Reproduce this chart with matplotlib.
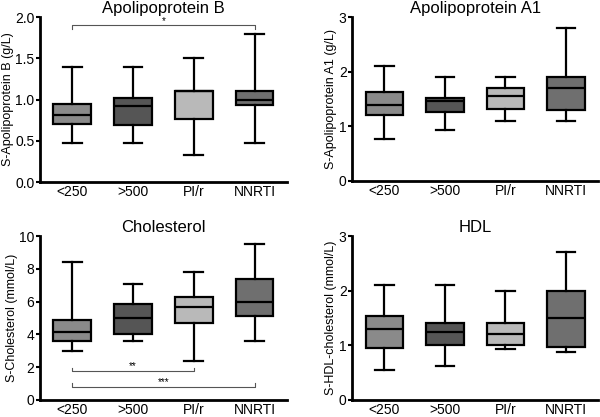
import matplotlib
matplotlib.use("Agg")
import matplotlib.pyplot as plt

plt.rcParams['font.family'] = ['Liberation Sans', 'DejaVu Sans']

categories = ["<250", ">500", "PI/r", "NNRTI"]
colors = ["#8a8a8a", "#555555", "#b9b9b9", "#6f6f6f"]

# (whislo, q1, med, q3, whishi) per category
apob = [(0.47, 0.70, 0.81, 0.95, 1.40),
        (0.47, 0.69, 0.92, 1.02, 1.40),
        (0.33, 0.77, 1.10, 1.10, 1.50),
        (0.47, 0.93, 1.00, 1.10, 1.80)]
apoa1 = [(0.76, 1.20, 1.40, 1.63, 2.10),
         (0.94, 1.27, 1.46, 1.52, 1.90),
         (1.10, 1.32, 1.55, 1.70, 1.90),
         (1.10, 1.30, 1.70, 1.90, 2.80)]
chol = [(3.0, 3.6, 4.15, 4.85, 8.4),
        (3.6, 4.05, 5.0, 5.85, 7.1),
        (2.4, 4.7, 5.7, 6.3, 7.8),
        (3.6, 5.1, 6.0, 7.4, 9.5)]
hdl = [(0.55, 0.95, 1.30, 1.53, 2.10),
       (0.62, 1.00, 1.25, 1.40, 2.10),
       (0.93, 1.00, 1.20, 1.40, 2.00),
       (0.88, 0.97, 1.50, 2.00, 2.70)]

panels = [
    dict(title="Apolipoprotein B", ylabel="S-Apolipoprotein B (g/L)", data=apob,
         ylim=(0, 2.0), yticks=[0.0, 0.5, 1.0, 1.5, 2.0], fmt="{:.1f}",
         rect=[0.0667, 0.5635, 0.4113, 0.3955],
         sig=[(1, 4, 1.905, -0.05, "*", 0.045)]),
    dict(title="Apolipoprotein A1", ylabel="S-Apolipoprotein A1 (g/L)", data=apoa1,
         ylim=(0, 3), yticks=[0, 1, 2, 3], fmt="{:.0f}",
         rect=[0.587, 0.566, 0.41, 0.393], sig=[]),
    dict(title="Cholesterol", ylabel="S-Cholesterol (mmol/L)", data=chol,
         ylim=(0, 10), yticks=[0, 2, 4, 6, 8, 10], fmt="{:.0f}",
         rect=[0.0667, 0.0408, 0.4113, 0.3932],
         sig=[(1, 3, 1.76, 0.18, "**", 0.3), (1, 4, 0.82, 0.2, "***", 0.3)]),
    dict(title="HDL", ylabel="S-HDL-cholesterol (mmol/L)", data=hdl,
         ylim=(0, 3), yticks=[0, 1, 2, 3], fmt="{:.0f}",
         rect=[0.587, 0.0408, 0.41, 0.3932], sig=[]),
]

fig = plt.figure(figsize=(6.0, 4.17), dpi=100)

for p in panels:
    ax = fig.add_axes(p["rect"])
    stats = []
    for cat, (lo, q1, med, q3, hi) in zip(categories, p["data"]):
        stats.append(dict(label=cat, whislo=lo, q1=q1, med=med, q3=q3, whishi=hi, fliers=[]))
    bp = ax.bxp(stats, positions=[1, 2, 3, 4], widths=0.62, patch_artist=True,
                showfliers=False,
                boxprops=dict(linewidth=1.6, edgecolor="black"),
                medianprops=dict(color="black", linewidth=1.6),
                whiskerprops=dict(color="black", linewidth=1.6),
                capprops=dict(color="black", linewidth=1.6),
                capwidths=0.31)
    for patch, c in zip(bp["boxes"], colors):
        patch.set_facecolor(c)
    ax.set_xlim(0.47, 4.53)
    ax.set_ylim(*p["ylim"])
    ax.set_yticks(p["yticks"])
    ax.set_yticklabels([p["fmt"].format(v) for v in p["yticks"]], fontsize=10)
    ax.set_xticks([1, 2, 3, 4])
    ax.set_xticklabels(categories, fontsize=10)
    ax.tick_params(axis="x", length=0, pad=2.5)
    ax.tick_params(axis="y", length=3, width=1.5, pad=1)
    for s in ["top", "right"]:
        ax.spines[s].set_visible(False)
    for s in ["left", "bottom"]:
        ax.spines[s].set_linewidth(2)
    ax.set_ylabel(p["ylabel"], fontsize=9, labelpad=1)
    ax.set_title(p["title"], fontsize=12, pad=3)
    for (x1, x2, y, tick, txt, off) in p["sig"]:
        ax.plot([x1, x1, x2, x2], [y + tick, y, y, y + tick], color="#555555",
                linewidth=0.8, clip_on=False)
        ax.text((x1 + x2) / 2, y + off, txt, ha="center", va="center",
                fontsize=7)

fig.savefig("out.png", dpi=100)
